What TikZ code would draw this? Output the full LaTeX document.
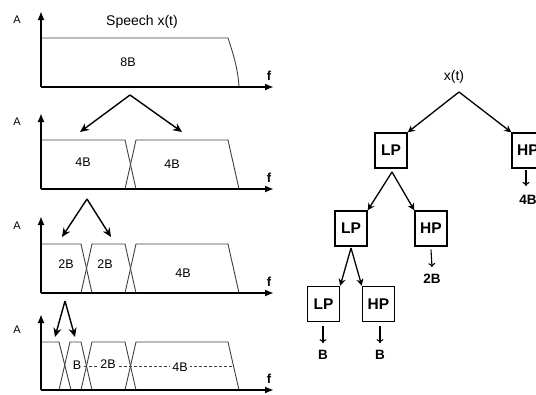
\documentclass[tikz,border=0pt]{standalone}
\usepackage{fontspec}
\setmainfont{Liberation Sans}
\usetikzlibrary{arrows.meta}
\begin{document}
\begin{tikzpicture}[x=1pt,y=-1pt,
  axis/.style={line width=2.2pt,-{Latex[length=9pt,width=7pt]}},
  spec/.style={draw=black!75,line width=0.9pt},
  lbl/.style={font=\fontsize{12.5}{12.5}\selectfont,inner sep=0pt},
  alabel/.style={font=\fontsize{11}{11}\selectfont,inner sep=0pt},
  flabel/.style={font=\bfseries\fontsize{13}{13}\selectfont,inner sep=0pt},
  splitarrow/.style={line width=1.4pt,-{Stealth[length=9pt,width=8pt]}},
  fbox/.style={draw,line width=1.4pt,minimum width=32pt,minimum height=35pt,inner sep=0pt,font=\bfseries\fontsize{15.5}{15.5}\selectfont},
  outlbl/.style={font=\bfseries\fontsize{13.5}{13.5}\selectfont,inner sep=0pt},
  treearrow/.style={line width=1.3pt,-{Stealth[length=7pt,width=7pt]}},
  downarrow/.style={line width=1.1pt,-{To[length=4pt,width=7pt]}}
]
\useasboundingbox (0,0) rectangle (536,394);
\clip (0,0) rectangle (536,394);

% ---------- Panel 1 ----------
\coordinate (o1) at (41,87);
\coordinate (y1) at (41,11);
\coordinate (x1) at (274,87);
\draw[spec] (41,38) -- (228,38) .. controls (234,56) and (238,70) .. (239,87);
\draw[axis] (o1) -- (y1);
\draw[axis] (o1) -- (x1);
\node[alabel] (a1) at (17,20) {A};
\node[flabel] (f1) at (269,76) {f};
\node[lbl,font=\fontsize{14}{14}\selectfont] (sp) at (142,22) {Speech x(t)};
\node[lbl] (l8b) at (128,62) {8B};

% split arrows 1
\coordinate (ap1) at (130,95);
\coordinate (t1a) at (80,132);
\coordinate (t1b) at (182,132);
\draw[splitarrow] (ap1) -- (t1a);
\draw[splitarrow] (ap1) -- (t1b);

% ---------- Panel 2 ----------
\coordinate (o2) at (41,189);
\coordinate (y2) at (41,113);
\coordinate (x2) at (274,189);
\draw[spec] (41,140) -- (125,140) -- (136,189);
\draw[spec] (125,189) -- (136,140) -- (228,140) -- (239,189);
\draw[axis] (o2) -- (y2);
\draw[axis] (o2) -- (x2);
\node[alabel] (a2) at (17,122) {A};
\node[flabel] (f2) at (269,178) {f};
\node[lbl] (l4a) at (83,162) {4B};
\node[lbl] (l4b) at (172,164) {4B};

% split arrows 2
\coordinate (ap2) at (87,199);
\coordinate (t2a) at (62,237);
\coordinate (t2b) at (111,237);
\draw[splitarrow] (ap2) -- (t2a);
\draw[splitarrow] (ap2) -- (t2b);

% ---------- Panel 3 ----------
\coordinate (o3) at (41,293);
\coordinate (y3) at (41,216);
\coordinate (x3) at (274,293);
\draw[spec] (41,244) -- (81,244) -- (92,293);
\draw[spec] (81,293) -- (92,244) -- (125,244) -- (136,293);
\draw[spec] (125,293) -- (136,244) -- (228,244) -- (239,293);
\draw[axis] (o3) -- (y3);
\draw[axis] (o3) -- (x3);
\node[alabel] (a3) at (17,226) {A};
\node[flabel] (f3) at (269,282) {f};
\node[lbl] (l2a) at (66,264) {2B};
\node[lbl] (l2b) at (105,264) {2B};
\node[lbl] (l4c) at (183,273) {4B};

% split arrows 3
\coordinate (ap3) at (65,301);
\coordinate (t3a) at (55,337);
\coordinate (t3b) at (75,337);
\draw[splitarrow] (ap3) -- (t3a);
\draw[splitarrow] (ap3) -- (t3b);

% ---------- Panel 4 ----------
\coordinate (o4) at (41,390);
\coordinate (y4) at (41,314);
\coordinate (x4) at (274,390);
\draw[spec] (41,342) -- (59,342) -- (71,390);
\draw[spec] (59,390) -- (70,342) -- (81,342) -- (92,390);
\draw[spec] (81,390) -- (92,342) -- (125,342) -- (136,390);
\draw[spec] (125,390) -- (136,342) -- (228,342) -- (239,390);
\draw[black!75,line width=0.8pt,dash pattern=on 2.5pt off 2.5pt] (84,366) -- (232,366);
\draw[axis] (o4) -- (y4);
\draw[axis] (o4) -- (x4);
\node[alabel] (a4) at (17,330) {A};
\node[flabel] (f4) at (269,379) {f};
\node[lbl,fill=white,inner xsep=1pt] (lb) at (77,365) {B};
\node[lbl,fill=white,inner xsep=1pt] (l2c) at (108,364) {2B};
\node[lbl,fill=white,inner xsep=2pt] (l4d) at (180,367) {4B};

% ---------- Tree ----------
\node[lbl,font=\fontsize{14}{14}\selectfont] (xt) at (454,77) {x(t)};
\coordinate (tap) at (459,92);
\node[fbox] (LP1) at (391,150.5) {LP};
\node[fbox] (HP1) at (528,150.5) {HP};
\draw[treearrow] (tap) -- (LP1.north east);
\draw[treearrow] (tap) -- (HP1.north west);
\node[outlbl] (o4B) at (528,200) {4B};
\draw[downarrow] (526,170) -- (526,186);

\coordinate (lap1) at (392,172);
\node[fbox] (LP2) at (351,228.5) {LP};
\node[fbox] (HP2) at (431,228.5) {HP};
\draw[treearrow] (lap1) -- (LP2.north east);
\draw[treearrow] (lap1) -- (HP2.north west);
\node[outlbl] (o2B) at (432,279) {2B};
\draw[downarrow] ([yshift=-3pt]HP2.south) -- ([yshift=7pt]o2B.north);

\coordinate (lap2) at (351,248);
\node[fbox] (LP3) at (323.5,304) {LP};
\node[fbox] (HP3) at (378.5,304) {HP};
\draw[treearrow] (lap2) -- (LP3.north east);
\draw[treearrow] (lap2) -- (HP3.north west);
\node[outlbl] (oB1) at (323,355) {B};
\node[outlbl] (oB2) at (380,355) {B};
\draw[downarrow] ([yshift=-4pt]LP3.south -| oB1) -- ([yshift=7pt]oB1.north);
\draw[downarrow] ([yshift=-4pt]HP3.south -| oB2) -- ([yshift=7pt]oB2.north);
\end{tikzpicture}
\end{document}
